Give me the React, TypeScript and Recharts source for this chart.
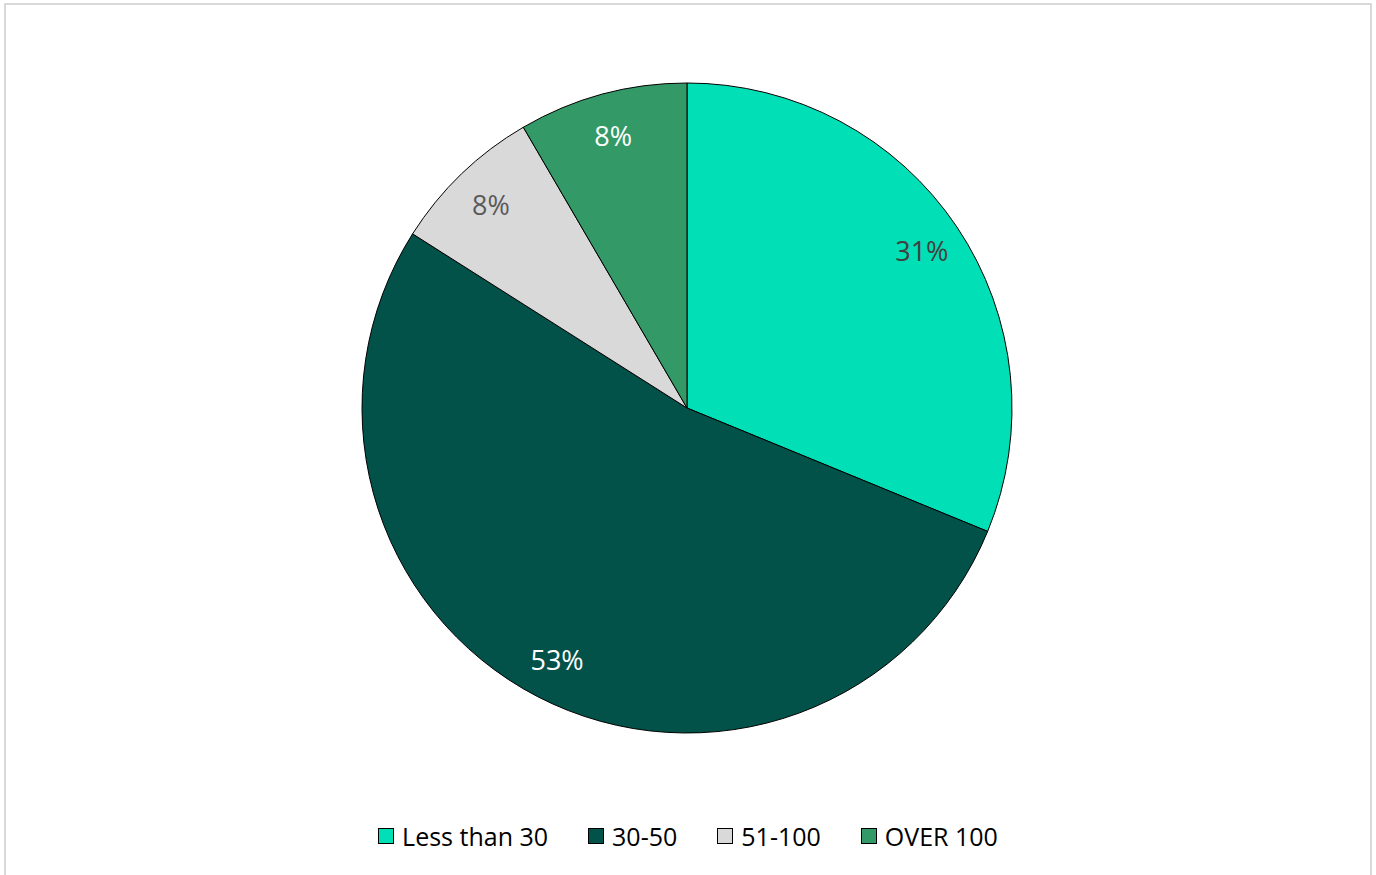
import { PieChart, Pie, Cell, Legend } from "recharts";

const categories = ["Less than 30", "30-50", "51-100", "OVER 100"];
const shares = [31.2, 52.8, 7.6, 8.4];
const labels = ["31%", "53%", "8%", "8%"];

const COLORS = ["#00DFB5", "#02524A", "#D9D9D9", "#339966"];
const LABEL_COLORS = ["#404040", "#FFFFFF", "#595959", "#FFFFFF"];
const FONT = "'Open Sans', 'Noto Sans', sans-serif";

const data = categories.map((name, i) => ({ name, value: shares[i], label: labels[i] }));

const RAD = Math.PI / 180;

function renderLabel(props: any) {
  const { cx, cy, midAngle, outerRadius, index } = props;
  const r = outerRadius * 0.87;
  const x = cx + r * Math.cos(-midAngle * RAD);
  const y = cy + r * Math.sin(-midAngle * RAD);
  return (
    <text
      x={x}
      y={y}
      fill={LABEL_COLORS[index]}
      textAnchor="middle"
      dominantBaseline="central"
      fontSize={27}
      fontFamily={FONT}
    >
      {data[index].label}
    </text>
  );
}

function LegendContent() {
  return (
    <div style={{ display: "flex", justifyContent: "center", gap: 40, fontFamily: FONT, fontSize: 25, color: "#000" }}>
      {categories.map((c, i) => (
        <div key={c} style={{ display: "flex", alignItems: "center" }}>
          <span
            style={{
              display: "inline-block",
              width: 14,
              height: 14,
              background: COLORS[i],
              border: "1px solid #000",
              marginRight: 8,
            }}
          />
          <span>{c}</span>
        </div>
      ))}
    </div>
  );
}

export default function App() {
  return (
    <div style={{ position: "absolute", left: 0, top: 0, width: 1376, height: 875, background: "#fff", overflow: "hidden" }}>
      <div
        style={{
          position: "absolute",
          left: 4,
          top: 3,
          width: 1364,
          height: 900,
          border: "2px solid #D9D9D9",
        }}
      />
      <PieChart
        width={1376}
        height={875}
        margin={{ top: 0, right: 0, bottom: 0, left: 0 }}
        style={{ position: "absolute", left: 0, top: 0 }}
      >
        <Pie
          data={data}
          dataKey="value"
          nameKey="name"
          cx={687}
          cy={408}
          outerRadius={325}
          startAngle={90}
          endAngle={-270}
          stroke="#000"
          strokeWidth={1}
          label={renderLabel}
          labelLine={false}
          isAnimationActive={false}
        >
          {data.map((d, i) => (
            <Cell key={d.name} fill={COLORS[i]} />
          ))}
        </Pie>
        <Legend
          content={<LegendContent />}
          verticalAlign="bottom"
          wrapperStyle={{ top: 819, bottom: "auto", left: 0, width: 1376 }}
        />
      </PieChart>
    </div>
  );
}
